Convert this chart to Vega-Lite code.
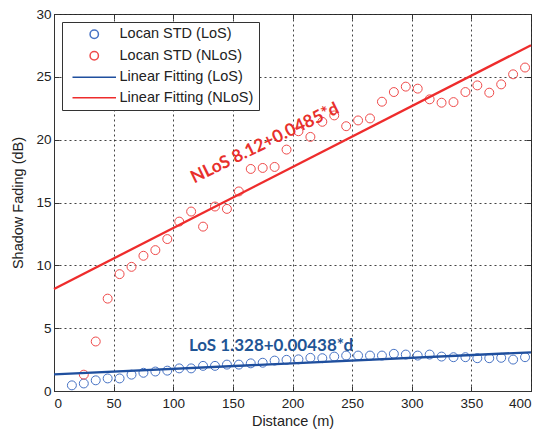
{
  "$schema": "https://vega.github.io/schema/vega-lite/v6.json",
  "width": 477,
  "height": 377,
  "autosize": {"type": "none"},
  "padding": {"left": 54, "top": 14, "right": 26, "bottom": 42},
  "config": {
    "font": "Liberation Sans",
    "view": {"stroke": "#333", "strokeWidth": 1},
    "axis": {
      "labelFont": "Liberation Sans", "labelFontSize": 13.5, "labelColor": "#222",
      "titleFont": "Liberation Sans", "titleFontSize": 14.5, "titleFontWeight": "normal", "titleColor": "#222",
      "domainColor": "#333", "tickColor": "#333", "gridColor": "#222", "gridDash": [2, 3], "gridOpacity": 0.85
    },
    "legend": {
      "orient": "none", "legendX": 8, "legendY": 8,
      "fillColor": "white", "strokeColor": "#333", "padding": 5,
      "symbolSize": 70, "labelFont": "Liberation Sans", "labelFontSize": 14.5, "labelColor": "#222",
      "rowPadding": 5.5, "symbolOffset": 20, "labelOffset": 18
    }
  },
  "datasets": {
    "pts": [
      {"series": "Locan STD (LoS)", "x": 15, "y": 0.45},
      {"series": "Locan STD (LoS)", "x": 25, "y": 0.6},
      {"series": "Locan STD (LoS)", "x": 35, "y": 0.85},
      {"series": "Locan STD (LoS)", "x": 45, "y": 1.0},
      {"series": "Locan STD (LoS)", "x": 55, "y": 1.0},
      {"series": "Locan STD (LoS)", "x": 65, "y": 1.3},
      {"series": "Locan STD (LoS)", "x": 75, "y": 1.45},
      {"series": "Locan STD (LoS)", "x": 85, "y": 1.55},
      {"series": "Locan STD (LoS)", "x": 95, "y": 1.62},
      {"series": "Locan STD (LoS)", "x": 105, "y": 1.8},
      {"series": "Locan STD (LoS)", "x": 115, "y": 1.8},
      {"series": "Locan STD (LoS)", "x": 125, "y": 2.0},
      {"series": "Locan STD (LoS)", "x": 135, "y": 2.0},
      {"series": "Locan STD (LoS)", "x": 145, "y": 2.1},
      {"series": "Locan STD (LoS)", "x": 155, "y": 2.1},
      {"series": "Locan STD (LoS)", "x": 165, "y": 2.2},
      {"series": "Locan STD (LoS)", "x": 175, "y": 2.25},
      {"series": "Locan STD (LoS)", "x": 185, "y": 2.42},
      {"series": "Locan STD (LoS)", "x": 195, "y": 2.48},
      {"series": "Locan STD (LoS)", "x": 205, "y": 2.52},
      {"series": "Locan STD (LoS)", "x": 215, "y": 2.64},
      {"series": "Locan STD (LoS)", "x": 225, "y": 2.61},
      {"series": "Locan STD (LoS)", "x": 235, "y": 2.74},
      {"series": "Locan STD (LoS)", "x": 245, "y": 2.82},
      {"series": "Locan STD (LoS)", "x": 255, "y": 2.82},
      {"series": "Locan STD (LoS)", "x": 265, "y": 2.82},
      {"series": "Locan STD (LoS)", "x": 275, "y": 2.82},
      {"series": "Locan STD (LoS)", "x": 285, "y": 2.96},
      {"series": "Locan STD (LoS)", "x": 295, "y": 2.9},
      {"series": "Locan STD (LoS)", "x": 305, "y": 2.82},
      {"series": "Locan STD (LoS)", "x": 315, "y": 2.9},
      {"series": "Locan STD (LoS)", "x": 325, "y": 2.74},
      {"series": "Locan STD (LoS)", "x": 335, "y": 2.69},
      {"series": "Locan STD (LoS)", "x": 345, "y": 2.69},
      {"series": "Locan STD (LoS)", "x": 355, "y": 2.61},
      {"series": "Locan STD (LoS)", "x": 365, "y": 2.61},
      {"series": "Locan STD (LoS)", "x": 375, "y": 2.64},
      {"series": "Locan STD (LoS)", "x": 385, "y": 2.5},
      {"series": "Locan STD (LoS)", "x": 395, "y": 2.69},
      {"series": "Locan STD (NLoS)", "x": 25, "y": 1.3},
      {"series": "Locan STD (NLoS)", "x": 35, "y": 3.94},
      {"series": "Locan STD (NLoS)", "x": 45, "y": 7.35},
      {"series": "Locan STD (NLoS)", "x": 55, "y": 9.3},
      {"series": "Locan STD (NLoS)", "x": 65, "y": 9.88},
      {"series": "Locan STD (NLoS)", "x": 75, "y": 10.76},
      {"series": "Locan STD (NLoS)", "x": 85, "y": 11.21},
      {"series": "Locan STD (NLoS)", "x": 95, "y": 12.09},
      {"series": "Locan STD (NLoS)", "x": 105, "y": 13.48},
      {"series": "Locan STD (NLoS)", "x": 115, "y": 14.28},
      {"series": "Locan STD (NLoS)", "x": 125, "y": 13.08},
      {"series": "Locan STD (NLoS)", "x": 135, "y": 14.68},
      {"series": "Locan STD (NLoS)", "x": 145, "y": 14.49},
      {"series": "Locan STD (NLoS)", "x": 155, "y": 15.88},
      {"series": "Locan STD (NLoS)", "x": 165, "y": 17.67},
      {"series": "Locan STD (NLoS)", "x": 175, "y": 17.75},
      {"series": "Locan STD (NLoS)", "x": 185, "y": 17.83},
      {"series": "Locan STD (NLoS)", "x": 195, "y": 19.21},
      {"series": "Locan STD (NLoS)", "x": 205, "y": 20.67},
      {"series": "Locan STD (NLoS)", "x": 215, "y": 20.22},
      {"series": "Locan STD (NLoS)", "x": 225, "y": 21.42},
      {"series": "Locan STD (NLoS)", "x": 235, "y": 21.93},
      {"series": "Locan STD (NLoS)", "x": 245, "y": 21.07},
      {"series": "Locan STD (NLoS)", "x": 255, "y": 21.53},
      {"series": "Locan STD (NLoS)", "x": 265, "y": 21.69},
      {"series": "Locan STD (NLoS)", "x": 275, "y": 23.02},
      {"series": "Locan STD (NLoS)", "x": 285, "y": 23.79},
      {"series": "Locan STD (NLoS)", "x": 295, "y": 24.22},
      {"series": "Locan STD (NLoS)", "x": 305, "y": 24.06},
      {"series": "Locan STD (NLoS)", "x": 315, "y": 23.21},
      {"series": "Locan STD (NLoS)", "x": 325, "y": 22.94},
      {"series": "Locan STD (NLoS)", "x": 335, "y": 22.99},
      {"series": "Locan STD (NLoS)", "x": 345, "y": 23.79},
      {"series": "Locan STD (NLoS)", "x": 355, "y": 24.32},
      {"series": "Locan STD (NLoS)", "x": 365, "y": 23.74},
      {"series": "Locan STD (NLoS)", "x": 375, "y": 24.4},
      {"series": "Locan STD (NLoS)", "x": 385, "y": 25.2},
      {"series": "Locan STD (NLoS)", "x": 395, "y": 25.74}
    ],
    "fit": [
      {"series": "Linear Fitting (LoS)", "x": 0, "y": 1.328},
      {"series": "Linear Fitting (LoS)", "x": 400, "y": 3.08},
      {"series": "Linear Fitting (NLoS)", "x": 0, "y": 8.12},
      {"series": "Linear Fitting (NLoS)", "x": 400, "y": 27.52}
    ],
    "lblN": [{"x": 177, "y": 19.7, "text": "NLoS 8.12+0.0485*d"}],
    "lblL": [{"x": 182, "y": 3.58, "text": "LoS 1.328+0.00438*d"}]
  },
  "resolve": {"axis": {"x": "independent", "y": "independent"}},
  "layer": [
    {
      "data": {"name": "pts"},
      "mark": {"type": "point", "filled": false, "size": 80, "opacity": 1, "strokeWidth": 1},
      "encoding": {
        "x": {"field": "x", "type": "quantitative", "scale": {"domain": [0, 400], "nice": false},
              "axis": {"orient": "bottom", "title": "Distance (m)", "values": [0, 50, 100, 150, 200, 250, 300, 350, 400], "grid": true, "tickSize": -5, "labelPadding": 10, "titlePadding": 5}},
        "y": {"field": "y", "type": "quantitative", "scale": {"domain": [0, 30], "nice": false},
              "axis": {"orient": "left", "title": "Shadow Fading (dB)", "values": [0, 5, 10, 15, 20, 25, 30], "grid": true, "tickSize": -5, "labelPadding": 8, "titlePadding": 10}},
        "color": {"field": "series", "type": "nominal",
                  "scale": {"domain": ["Locan STD (LoS)", "Locan STD (NLoS)", "Linear Fitting (LoS)", "Linear Fitting (NLoS)"], "range": ["#4672c4", "#ef4a4a", "#1f4f9e", "#ee2c2c"]},
                  "legend": {"title": null,
                             "encode": {"symbols": {"update": {"strokeWidth": {"signal": "indexof(datum.value, 'Linear') >= 0 ? 2.5 : 1"}}}}}},
        "shape": {"field": "series", "type": "nominal",
                  "scale": {"domain": ["Locan STD (LoS)", "Locan STD (NLoS)", "Linear Fitting (LoS)", "Linear Fitting (NLoS)"], "range": ["circle", "circle", "M-5.2,0H5.2", "M-5.2,0H5.2"]},
                  "legend": {"title": null}}
      }
    },
    {
      "data": {"name": "fit"},
      "mark": {"type": "line", "strokeWidth": 2.3},
      "encoding": {
        "x": {"field": "x", "type": "quantitative",
              "axis": {"orient": "top", "title": null, "labels": false, "grid": false, "domain": false, "tickSize": -5, "values": [0, 50, 100, 150, 200, 250, 300, 350, 400]}},
        "y": {"field": "y", "type": "quantitative",
              "axis": {"orient": "right", "title": null, "labels": false, "grid": false, "domain": false, "tickSize": -5, "values": [0, 5, 10, 15, 20, 25, 30]}},
        "color": {"field": "series", "type": "nominal", "legend": {"title": null}}
      }
    },
    {
      "data": {"name": "lblN"},
      "mark": {"type": "text", "font": "Lato", "fontWeight": "bold", "fontSize": 17.5, "color": "#e8302c", "angle": -26, "align": "center", "baseline": "middle"},
      "encoding": {
        "x": {"field": "x", "type": "quantitative", "axis": null},
        "y": {"field": "y", "type": "quantitative", "axis": null},
        "text": {"field": "text"}
      }
    },
    {
      "data": {"name": "lblL"},
      "mark": {"type": "text", "font": "Lato", "fontWeight": "bold", "fontSize": 17, "color": "#1f5595", "align": "center", "baseline": "middle"},
      "encoding": {
        "x": {"field": "x", "type": "quantitative", "axis": null},
        "y": {"field": "y", "type": "quantitative", "axis": null},
        "text": {"field": "text"}
      }
    }
  ]
}
